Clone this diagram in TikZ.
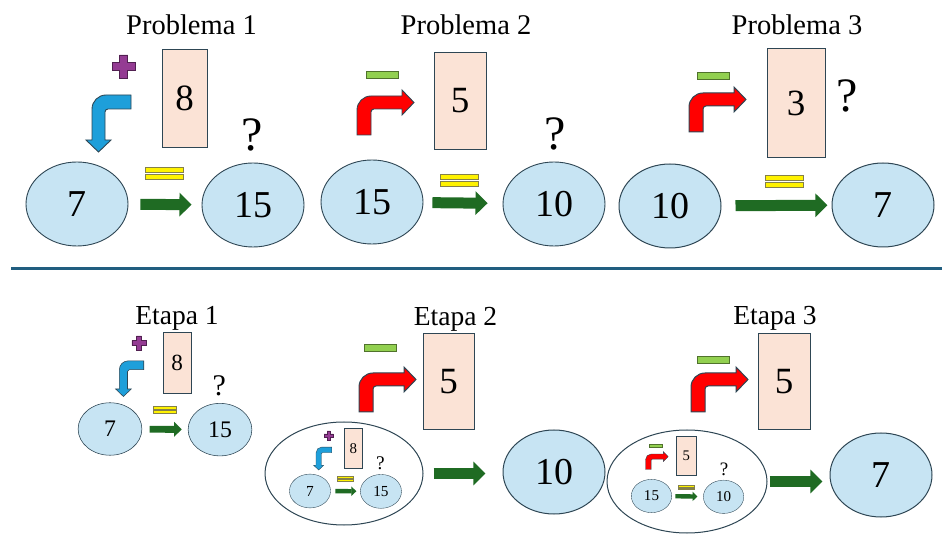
\documentclass[tikz,border=0pt]{standalone}
\usepackage{fontspec}
\setmainfont{Liberation Serif}
\usetikzlibrary{arrows.meta}
\usetikzlibrary{shapes.geometric}
\usepackage{xcolor}
\definecolor{bubblefill}{HTML}{C7E4F3}
\definecolor{inkgrey}{HTML}{2E4654}
\definecolor{boxfill}{HTML}{FBE3D6}
\definecolor{flowgreen}{HTML}{1F6B23}
\definecolor{turnred}{HTML}{FF0000}
\definecolor{turnblue}{HTML}{1E9FDA}
\definecolor{plusviolet}{HTML}{943B93}
\definecolor{minusgreen}{HTML}{92D050}
\definecolor{rulecolor}{HTML}{215E80}

\begin{document}
\begin{tikzpicture}[
  x=1pt, y=1pt, line width=1pt,
  bubble/.style={ellipse, draw=inkgrey, fill=bubblefill,
    minimum width=102, minimum height=84, inner sep=0pt,
    font=\fontsize{38}{40}\selectfont},
  holder/.style={ellipse, draw=inkgrey, fill=white,
    minimum width=158, minimum height=103, inner sep=0pt},
  numbox/.style={rectangle, draw=inkgrey, fill=boxfill, inner sep=0pt,
    font=\fontsize{37}{40}\selectfont},
  query/.style={inner sep=0pt, font=\fontsize{48}{50}\selectfont},
  heading/.style={anchor=base, inner sep=0pt, font=\fontsize{28.5}{30}\selectfont},
  stagehead/.style={anchor=base, inner sep=0pt, font=\fontsize{27.5}{30}\selectfont},
  flow/.style={draw=flowgreen, line width=#1*11pt,
    -{Triangle[length=0pt 1.1, width=0pt 2.1]}},
  rule/.style={draw=rulecolor, line width=3pt},
  redfill/.style={draw=inkgrey, fill=turnred},
  bluefill/.style={draw=inkgrey, fill=turnblue},
  plusfill/.style={draw=plusviolet!55!black, fill=plusviolet},
  minusfill/.style={draw=minusgreen!55!black, fill=minusgreen},
  eqfill/.style={draw=yellow!45!black, fill=yellow},
  % small symbols
  pics/plussign/.style={code={
    \filldraw[plusfill] (-4.25,-11.5) -- (4.25,-11.5) -- (4.25,-4.25) -- (11.5,-4.25)
      -- (11.5,4.25) -- (4.25,4.25) -- (4.25,11.5) -- (-4.25,11.5) -- (-4.25,4.25)
      -- (-11.5,4.25) -- (-11.5,-4.25) -- (-4.25,-4.25) -- cycle;
  }},
  pics/minussign/.style={code={
    \filldraw[minusfill] (-16,-3.5) rectangle (16,3.5);
  }},
  pics/equalsign/.style={code={
    \filldraw[eqfill] (-19,1) rectangle (19,6);
    \filldraw[eqfill] (-19,-6) rectangle (19,-1);
  }},
  % bent arrows: red turns right, blue turns down
  pics/redturn/.style={code={
    \filldraw[redfill] (0,0) -- (0,25) arc[start angle=180, end angle=90, radius=14]
      -- (45,39) -- (45,45) -- (57,32.5) -- (45,20) -- (45,26) -- (17,26)
      arc[start angle=90, end angle=180, radius=3] -- (14,0) -- cycle;
  }},
  pics/blueturn/.style={code={
    \filldraw[bluefill] (0,0) -- (-25,0) arc[start angle=90, end angle=180, radius=14]
      -- (-39,-45) -- (-45,-45) -- (-32.5,-57) -- (-20,-45) -- (-26,-45) -- (-26,-17)
      arc[start angle=180, end angle=90, radius=3] -- (0,-14) -- cycle;
  }},
  % 7 + 8 = ?
  pics/addprob/.style={code={
    \begin{scope}[scale=#1, transform shape, line width=#1*0.9pt]
    \node[bubble] (-a) at (0,0) {7};
    \node[bubble] (-b) at (176,-1) {15};
    \node[numbox, minimum width=45, minimum height=98] (-box) at (107.5,106) {8};
    \node[query] (-q) at (175,69) {?};
    \pic at (46.5,137.5) {plussign};
    \pic at (54,109) {blueturn};
    \pic at (87.5,31) {equalsign};
    \draw[flow=#1, shorten <=#1*12pt, shorten >=#1*10pt] (-a) -- (-b);
    \end{scope}
  }},
  % 15 - 5 = ?
  pics/subprob/.style={code={
    \begin{scope}[scale=#1, transform shape, line width=#1*0.9pt]
    \node[bubble] (-a) at (0,0) {15};
    \node[bubble] (-b) at (182,-2) {10};
    \node[numbox, minimum width=52, minimum height=97] (-box) at (88,101.5) {5};
    \node[query] (-q) at (183,68) {?};
    \pic at (10,127.5) {minussign};
    \pic at (-15,67) {redturn};
    \pic at (87.5,22) {equalsign};
    \draw[flow=#1, shorten <=#1*9pt, shorten >=#1*15pt] (-a) -- (-b);
    \end{scope}
  }},
]
\useasboundingbox (0,0) rectangle (942,538);

% === Problema 1 ===
\node[heading] (title1) at (191.5,503) {Problema 1};
\pic (p1) at (77,334) {addprob=1};

% === Problema 2 ===
\node[heading] (title2) at (466,503) {Problema 2};
\pic (p2) at (372,336) {subprob=1};

% === Problema 3 ===
\node[heading] (title3) at (797,503) {Problema 3};
\node[bubble] (p3a) at (670,332) {10};
\node[bubble] (p3b) at (883,333) {7};
\node[numbox, minimum width=58, minimum height=109] (p3box) at (796,434.5) {3};
\node[query] (p3q) at (847,442) {?};
\pic at (713,462) {minussign};
\pic at (689,406) {redturn};
\pic at (784.5,356) {equalsign};
\draw[flow=1, shorten <=14pt, shorten >=4pt] (p3a) -- (p3b);

% separator
\draw[rule] (11,269) -- (942,269);

% === Etapa 1 ===
\node[stagehead] (stage1) at (177,213) {Etapa 1};
\pic (e1) at (110,109) {addprob=0.625};

% === Etapa 2 ===
\node[stagehead] (stage2) at (455.5,212) {Etapa 2};
\node[holder] (big2) at (344,64.5) {};
\pic (e2) at (310,47) {addprob=0.403};
\pic at (380.5,189.5) {minussign};
\pic at (359,126) {redturn};
\node[numbox, minimum width=51, minimum height=96] (e2box) at (448.5,156) {5};
\node[bubble] (e2res) at (554,66) {10};
\draw[flow=1, shorten <=10pt, shorten >=17pt] (big2.east) -- (big2.east -| e2res.west);

% === Etapa 3 ===
\node[stagehead] (stage3) at (775,213) {Etapa 3};
\node[holder, minimum width=160] (big3) at (687,56.5) {};
\pic (e3) at (651.5,42) {subprob=0.396};
\pic at (713,177.5) {minussign};
\pic at (691,126) {redturn};
\node[numbox, minimum width=52, minimum height=96] (e3box) at (784,156) {5};
\node[bubble] (e3res) at (881,63) {7};
\draw[flow=1, shorten <=2pt, shorten >=7pt] (big3.east) -- (big3.east -| e3res.west);

\end{tikzpicture}
\end{document}
